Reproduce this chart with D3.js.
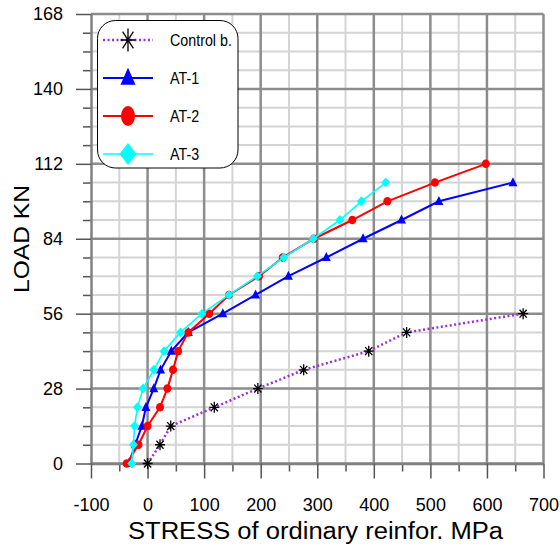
<!DOCTYPE html>
<html>
<head>
<meta charset="utf-8">
<script src="https://cdn.jsdelivr.net/npm/d3@7"></script>
<style>
  body { margin: 0; background: #fff; }
  svg { display: block; }
  text { font-family: "Liberation Sans", Arial, sans-serif; fill: #000; }
</style>
</head>
<body>
<svg id="chart" width="560" height="548"></svg>
<script>
// Load levels (kN), applied in 7 kN steps
const loadSteps = [0, 7, 14, 21, 28, 35, 42, 49, 56, 63, 70, 77, 84, 91, 98, 105, 112];

// Stress in ordinary reinforcement (MPa) at each load step
const controlStress = [0, 22, 41, 118, 195, 276, 391, 458, 664];
const at1Stress = [-33, -22, -10, -3, 11, 23, 42, 72, 133, 191, 249, 316, 381, 449, 515, 646];
const at2Stress = [-37, -16, 0, 22, 35, 45, 54, 72, 109, 144, 197, 239, 294, 362, 424, 508, 598];
const at3Stress = [-28, -25, -23, -18, -8, 11, 29, 58, 96, 144, 194, 241, 293, 340, 378, 421];

const seriesNames = ["Control b.", "AT-1", "AT-2", "AT-3"];

// Axis tick labels
const xTicks = [-100, 0, 100, 200, 300, 400, 500, 600, 700];
const yTicks = [0, 28, 56, 84, 112, 140, 168];

const svg = d3.select("#chart");
const x = d3.scaleLinear().domain([-100, 700]).range([91, 543.5]);
const y = d3.scaleLinear().domain([0, 168]).range([463.5, 14]);

const xMinor = d3.range(-50, 701, 50).filter(v => v % 100 !== 0);
const xMajor = xTicks.filter(v => v > -100);
const yMinor = d3.range(7, 169, 7).filter(v => v % 28 !== 0);
const yMajor = yTicks;

// ---- grid ----
const grid = svg.append("g");
function vLines(vals, color, w) {
  grid.append("g").selectAll("line").data(vals).join("line")
    .attr("x1", d => x(d)).attr("x2", d => x(d))
    .attr("y1", y(0)).attr("y2", y(168))
    .attr("stroke", color).attr("stroke-width", w);
}
function hLines(vals, color, w) {
  grid.append("g").selectAll("line").data(vals).join("line")
    .attr("x1", x(-100)).attr("x2", x(700))
    .attr("y1", d => y(d)).attr("y2", d => y(d))
    .attr("stroke", color).attr("stroke-width", w);
}
vLines(xMinor, "#d4d4d4", 2);
hLines(yMinor, "#d4d4d4", 2);
vLines(xMajor, "#8c8c8c", 2.5);
hLines(yMajor, "#8c8c8c", 2.5);

// ---- axes ----
const plainNumber = d => String(d);

function styleAxis(g) {
  g.attr("font-size", 18).attr("font-family", '"Liberation Sans", Arial, sans-serif');
  g.selectAll(".tick line").attr("stroke", "#555").attr("stroke-width", 1.5);
  g.selectAll(".tick text").attr("fill", "#000");
  g.select(".domain").attr("stroke", "#808080").attr("stroke-width", 2.5);
}

svg.append("g")
  .attr("transform", `translate(${x(-100)},0)`)
  .call(d3.axisLeft(y).tickValues(yMinor).tickSize(8).tickFormat(""))
  .call(g => { g.select(".domain").remove(); g.selectAll(".tick line").attr("stroke", "#555").attr("stroke-width", 1.5); });

svg.append("g")
  .attr("transform", `translate(0,${y(0)})`)
  .call(d3.axisBottom(x).tickValues(xMinor).tickSize(8).tickFormat(""))
  .call(g => { g.select(".domain").remove(); g.selectAll(".tick line").attr("stroke", "#555").attr("stroke-width", 1.5); });

svg.append("g")
  .attr("transform", `translate(${x(-100)},0)`)
  .call(d3.axisLeft(y).tickValues(yTicks).tickSize(15).tickSizeOuter(0).tickPadding(13).tickFormat(plainNumber))
  .call(styleAxis);

svg.append("g")
  .attr("transform", `translate(0,${y(0)})`)
  .call(d3.axisBottom(x).tickValues(xTicks).tickSize(15).tickSizeOuter(0).tickPadding(20).tickFormat(plainNumber))
  .call(styleAxis);

// ---- axis titles ----
svg.append("text")
  .attr("x", 315.5).attr("y", 539)
  .attr("text-anchor", "middle")
  .attr("font-size", 23.5)
  .attr("textLength", 375).attr("lengthAdjust", "spacingAndGlyphs")
  .text("STRESS of ordinary reinfor. MPa");

svg.append("text")
  .attr("transform", "translate(28.5,239) rotate(-90)")
  .attr("text-anchor", "middle")
  .attr("font-size", 21.5)
  .attr("textLength", 108).attr("lengthAdjust", "spacingAndGlyphs")
  .text("LOAD KN");

// ---- marker shapes (w = width, h = height) ----
const shapes = {
  star: (w, h) => {
    const a = w / 2, b = h / 2, c = a * 0.72, e = b * 0.72;
    return `M${-a},0L${a},0M0,${-b}L0,${b}M${-c},${-e}L${c},${e}M${-c},${e}L${c},${-e}`;
  },
  triangle: (w, h) => `M0,${-h * 0.6}L${w / 2},${h * 0.4}L${-w / 2},${h * 0.4}Z`,
  circle: (w, h) => {
    const a = w / 2, b = h / 2;
    return `M${-a},0A${a},${b} 0 1,0 ${a},0A${a},${b} 0 1,0 ${-a},0Z`;
  },
  diamond: (w, h) => `M0,${-h / 2}L${w / 2},0L0,${h / 2}L${-w / 2},0Z`
};

const series = [
  { name: seriesNames[0], stress: controlStress, color: "#9b30d9", marker: "star", dash: "2,2.5", width: 2.5, mw: 10, mh: 11 },
  { name: seriesNames[1], stress: at1Stress, color: "#0000ff", marker: "triangle", dash: null, width: 2, mw: 9, mh: 9 },
  { name: seriesNames[2], stress: at2Stress, color: "#ff0000", marker: "circle", dash: null, width: 2, mw: 8, mh: 8.5 },
  { name: seriesNames[3], stress: at3Stress, color: "#00ffff", marker: "diamond", dash: null, width: 1.6, mw: 9, mh: 10 }
];

const line = d3.line().x(d => x(d.s)).y(d => y(d.l));

series.forEach(sr => {
  const pts = sr.stress.map((s, i) => ({ s, l: loadSteps[i] }));
  const g = svg.append("g");
  g.append("path").datum(pts)
    .attr("d", line)
    .attr("fill", "none")
    .attr("stroke", sr.color)
    .attr("stroke-width", sr.width)
    .attr("stroke-dasharray", sr.dash);
  g.selectAll("path.m").data(pts).join("path")
    .attr("class", "m")
    .attr("transform", d => `translate(${x(d.s)},${y(d.l)})`)
    .attr("d", shapes[sr.marker](sr.mw, sr.mh))
    .attr("fill", sr.marker === "star" ? "none" : sr.color)
    .attr("stroke", sr.marker === "star" ? "#000" : "none")
    .attr("stroke-width", 1.3);
});

// ---- legend ----
const legend = svg.append("g");
legend.append("rect")
  .attr("x", 97.5).attr("y", 20.5).attr("width", 140.5).attr("height", 147.5)
  .attr("rx", 18).attr("ry", 18)
  .attr("fill", "#fff").attr("stroke", "#000").attr("stroke-width", 1);

const legendRows = [40, 78, 116, 154];
const legendSizes = [[15, 23], [15, 17], [14, 20], [17, 22]];
series.forEach((sr, i) => {
  const ly = legendRows[i];
  legend.append("line")
    .attr("x1", 103).attr("x2", 153).attr("y1", ly).attr("y2", ly)
    .attr("stroke", sr.color).attr("stroke-width", sr.width)
    .attr("stroke-dasharray", sr.dash);
  legend.append("path")
    .attr("transform", `translate(128,${ly})`)
    .attr("d", shapes[sr.marker](legendSizes[i][0], legendSizes[i][1]))
    .attr("fill", sr.marker === "star" ? "none" : sr.color)
    .attr("stroke", sr.marker === "star" ? "#000" : "none")
    .attr("stroke-width", 1.3);
  // condensed label text
  legend.append("text")
    .attr("transform", `translate(170,${ly}) scale(0.84,1)`)
    .attr("dy", "0.36em")
    .attr("font-size", 17)
    .text(sr.name);
});
</script>
</body>
</html>
